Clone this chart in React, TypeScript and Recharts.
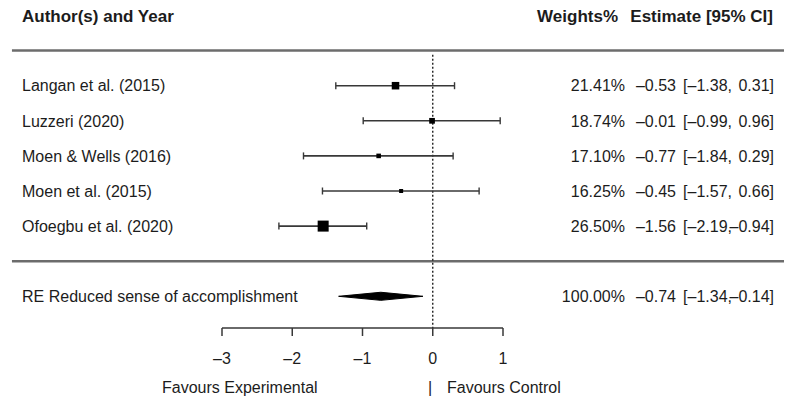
import { ScatterChart, Scatter, XAxis, YAxis, ReferenceLine } from 'recharts';

// study rows, top to bottom
const studies = [
  'Langan et al. (2015)',
  'Luzzeri (2020)',
  'Moen & Wells (2016)',
  'Moen et al. (2015)',
  'Ofoegbu et al. (2020)',
];
const weights = [21.41, 18.74, 17.1, 16.25, 26.5];
const estimates = [-0.53, -0.01, -0.77, -0.45, -1.56];
const lower = [-1.38, -0.99, -1.84, -1.57, -2.19];
const upper = [0.31, 0.96, 0.29, 0.66, -0.94];

// random-effects summary
const pooledLabel = 'RE Reduced sense of accomplishment';
const pooledWeight = 100;
const pooledEst = -0.74;
const pooledLo = -1.34;
const pooledHi = -0.14;

const xTicks = [-3, -2, -1, 0, 1];

const HEADER_ROW = -2;
const RULE_ROW = -1;
const SEP_ROW = 5;
const POOLED_ROW = 6;
const rowTicks = [HEADER_ROW, 0, 1, 2, 3, 4, POOLED_ROW];

const FONT = '"Liberation Sans", Arial, Helvetica, sans-serif';
const INK = '#1c1c1c';
const LINE = '#383838';

const W = 795;
const H = 407;

const dash = (s: string) => s.replace(/-/g, '\u2013');
const num = (v: number) => dash(v.toFixed(2));

const minW = Math.min(...weights);
const maxW = Math.max(...weights);
const boxSize = (w: number) => 4 + ((w - minW) / (maxW - minW)) * 7;

const boxes = estimates.map((e, i) => ({ x: e, y: i, w: weights[i] }));
const ciSegments = studies.map((_, i) => [
  { x: lower[i], y: i },
  { x: upper[i], y: i },
]);
const diamond = [
  { x: pooledLo, y: POOLED_ROW },
  { x: pooledEst, y: POOLED_ROW - 0.115 },
  { x: pooledHi, y: POOLED_ROW },
  { x: pooledEst, y: POOLED_ROW + 0.115 },
  { x: pooledLo, y: POOLED_ROW },
];

function rowValues(r: number) {
  if (r === POOLED_ROW) {
    return { label: pooledLabel, w: pooledWeight, est: pooledEst, lo: pooledLo, hi: pooledHi };
  }
  return { label: studies[r], w: weights[r], est: estimates[r], lo: lower[r], hi: upper[r] };
}

function LeftTick({ y, payload }: any) {
  if (payload.value === HEADER_ROW) {
    return (
      <text x={22} y={y} dy="0.36em" fontSize={17} fontWeight="bold" fill={INK} fontFamily={FONT}>
        Author(s) and Year
      </text>
    );
  }
  return (
    <text x={22} y={y} dy="0.36em" fontSize={16} fill={INK} fontFamily={FONT}>
      {rowValues(payload.value).label}
    </text>
  );
}

function RightTick({ y, payload }: any) {
  const t = { y, dy: '0.36em', fill: INK, fontFamily: FONT, textAnchor: 'end' as const };
  if (payload.value === HEADER_ROW) {
    return (
      <g>
        <text {...t} x={618} fontSize={17} fontWeight="bold">Weights%</text>
        <text {...t} x={773} fontSize={17} fontWeight="bold">Estimate [95% CI]</text>
      </g>
    );
  }
  const r = rowValues(payload.value);
  return (
    <g fontSize={16}>
      <text {...t} x={625}>{r.w.toFixed(2) + '%'}</text>
      <text {...t} x={676}>{num(r.est)}</text>
      <text {...t} x={732}>{'[' + num(r.lo) + ','}</text>
      <text {...t} x={774}>{num(r.hi) + ']'}</text>
    </g>
  );
}

const Cap = ({ cx, cy }: any) => (
  <line x1={cx} x2={cx} y1={cy - 3.5} y2={cy + 3.5} stroke={LINE} strokeWidth={1.4} />
);

const Box = ({ cx, cy, payload }: any) => {
  const s = boxSize(payload.w);
  return <rect x={cx - s / 2} y={cy - s / 2} width={s} height={s} fill="#000" />;
};

const Nothing = () => <g />;

function FavoursLabel() {
  return (
    <g fontSize={16} fill={INK} fontFamily={FONT}>
      <text x={162} y={393} fill={INK}>Favours Experimental</text>
      <text x={428} y={393} fill={INK}>|</text>
      <text x={447} y={393} fill={INK}>Favours Control</text>
    </g>
  );
}

export default function App() {
  return (
    <div style={{ position: 'absolute', left: 0, top: 0, background: '#fff' }}>
      <ScatterChart width={W} height={H} margin={{ top: 0, right: 0, bottom: 0, left: 0 }}>
        <XAxis
          type="number"
          dataKey="x"
          domain={[-3, 1]}
          ticks={xTicks}
          allowDataOverflow
          height={79}
          stroke={LINE}
          strokeWidth={1.5}
          tickSize={8}
          tickMargin={17}
          tickFormatter={(v: number) => dash(String(v))}
          tick={{ fill: INK, fontSize: 16, fontFamily: FONT }}
          label={{ content: FavoursLabel }}
        />
        <YAxis
          yAxisId="rows"
          type="number"
          dataKey="y"
          orientation="left"
          width={222}
          reversed
          domain={[-2.4416, 6.9031]}
          allowDataOverflow
          ticks={rowTicks}
          interval={0}
          axisLine={false}
          tickLine={false}
          tick={LeftTick}
        />
        <YAxis
          yAxisId="cols"
          type="number"
          dataKey="y"
          orientation="right"
          width={292}
          reversed
          domain={[-2.4416, 6.9031]}
          allowDataOverflow
          ticks={rowTicks}
          interval={0}
          axisLine={false}
          tickLine={false}
          tick={RightTick}
        />
        <ReferenceLine
          yAxisId="rows"
          ifOverflow="visible"
          segment={[{ x: -5.99, y: RULE_ROW }, { x: 5.0, y: RULE_ROW }]}
          stroke="#6c6c6c"
          strokeWidth={2.5}
        />
        <ReferenceLine
          yAxisId="rows"
          ifOverflow="visible"
          segment={[{ x: -5.99, y: SEP_ROW }, { x: 5.0, y: SEP_ROW }]}
          stroke="#6c6c6c"
          strokeWidth={2.5}
        />
        <ReferenceLine
          yAxisId="rows"
          ifOverflow="visible"
          segment={[{ x: 0, y: -0.88 }, { x: 0, y: 6.9 }]}
          stroke="#222"
          strokeWidth={1.4}
          strokeDasharray="2 2"
        />
        {ciSegments.map((seg, i) => (
          <Scatter
            key={i}
            yAxisId="rows"
            data={seg}
            line={{ stroke: LINE, strokeWidth: 1.6 }}
            shape={Cap}
            isAnimationActive={false}
          />
        ))}
        <Scatter yAxisId="rows" data={boxes} shape={Box} isAnimationActive={false} />
        <Scatter
          yAxisId="rows"
          data={diamond}
          line={{ stroke: '#000', fill: '#000', strokeWidth: 1 }}
          shape={Nothing}
          isAnimationActive={false}
        />
      </ScatterChart>
    </div>
  );
}
